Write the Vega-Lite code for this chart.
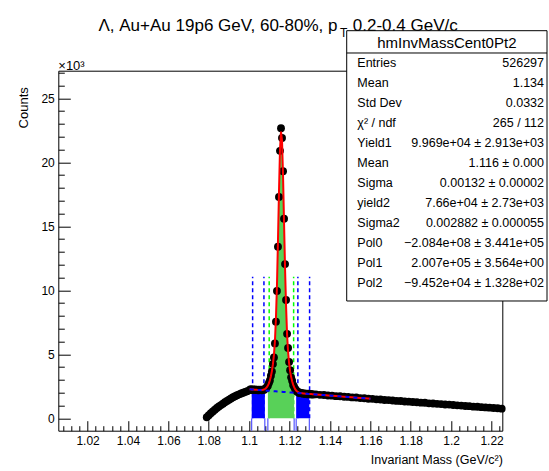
{
  "$schema": "https://vega.github.io/schema/vega-lite/v6.json",
  "width": 444,
  "height": 360,
  "autosize": {"type": "none"},
  "padding": {"left": 58.3, "top": 70.7, "right": 46.7, "bottom": 40.3},
  "background": "white",
  "config": {
    "view": {"stroke": "black", "strokeWidth": 1},
    "font": "Liberation Sans",
    "axis": {"labelFont": "Liberation Sans", "titleFont": "Liberation Sans", "labelColor": "black", "titleColor": "black", "tickColor": "black", "tickWidth": 1, "domain": false, "grid": false, "titleFontWeight": "normal", "labelFontSize": 12, "titleFontSize": 12.5, "labelOverlap": false, "labelFlush": false}
  },
  "datasets": {
    "h": [
      {"m": 1.079, "c": 0.08}, {"m": 1.080, "c": 0.24}, {"m": 1.081, "c": 0.39}, {"m": 1.082, "c": 0.53}, {"m": 1.083, "c": 0.67},
      {"m": 1.084, "c": 0.8}, {"m": 1.085, "c": 0.92}, {"m": 1.086, "c": 1.03}, {"m": 1.087, "c": 1.14}, {"m": 1.088, "c": 1.25},
      {"m": 1.089, "c": 1.35}, {"m": 1.090, "c": 1.45}, {"m": 1.091, "c": 1.55}, {"m": 1.092, "c": 1.64}, {"m": 1.093, "c": 1.72},
      {"m": 1.094, "c": 1.8}, {"m": 1.095, "c": 1.87}, {"m": 1.096, "c": 1.94}, {"m": 1.097, "c": 2.0}, {"m": 1.098, "c": 2.06},
      {"m": 1.099, "c": 2.12},
      {"m": 1.10025, "c": 2.22, "f": 2.267, "b": 2.267},
      {"m": 1.10075, "c": 2.27, "f": 2.261, "b": 2.261},
      {"m": 1.10125, "c": 2.21, "f": 2.254, "b": 2.254},
      {"m": 1.10175, "c": 2.26, "f": 2.248, "b": 2.248},
      {"m": 1.10225, "c": 2.2, "f": 2.242, "b": 2.242},
      {"m": 1.10275, "c": 2.25, "f": 2.236, "b": 2.236},
      {"m": 1.10325, "c": 2.21, "f": 2.23, "b": 2.23},
      {"m": 1.10375, "c": 2.24, "f": 2.223, "b": 2.223},
      {"m": 1.10425, "c": 2.18, "f": 2.217, "b": 2.217},
      {"m": 1.10475, "c": 2.23, "f": 2.211, "b": 2.211},
      {"m": 1.10525, "c": 2.2, "f": 2.213, "b": 2.205},
      {"m": 1.10575, "c": 2.23, "f": 2.212, "b": 2.199},
      {"m": 1.10625, "c": 2.19, "f": 2.214, "b": 2.192},
      {"m": 1.10675, "c": 2.24, "f": 2.224, "b": 2.186},
      {"m": 1.10725, "c": 2.22, "f": 2.245, "b": 2.18},
      {"m": 1.10775, "c": 2.3, "f": 2.281, "b": 2.174},
      {"m": 1.10825, "c": 2.33, "f": 2.339, "b": 2.168},
      {"m": 1.10875, "c": 2.45, "f": 2.426, "b": 2.161},
      {"m": 1.10925, "c": 2.55, "f": 2.554, "b": 2.155},
      {"m": 1.10975, "c": 2.76, "f": 2.733, "b": 2.149},
      {"m": 1.11025, "c": 2.95, "f": 2.97, "b": 2.143},
      {"m": 1.11075, "c": 3.32, "f": 3.287, "b": 2.137},
      {"m": 1.11125, "c": 3.66, "f": 3.692, "b": 2.13},
      {"m": 1.11175, "c": 4.25, "f": 4.23, "b": 2.124},
      {"m": 1.11225, "c": 4.75, "f": 4.95, "b": 2.118},
      {"m": 1.11275, "c": 5.85, "f": 6.05, "b": 2.112},
      {"m": 1.11325, "c": 7.55, "f": 7.85, "b": 2.106},
      {"m": 1.11375, "c": 9.95, "f": 10.4, "b": 2.099},
      {"m": 1.11425, "c": 13.4, "f": 13.9, "b": 2.093},
      {"m": 1.11475, "c": 17.3, "f": 17.7, "b": 2.087},
      {"m": 1.11525, "c": 20.9, "f": 21.0, "b": 2.081},
      {"m": 1.11575, "c": 22.66, "f": 22.4, "b": 2.075},
      {"m": 1.11625, "c": 21.9, "f": 21.7, "b": 2.068},
      {"m": 1.11675, "c": 19.3, "f": 19.0, "b": 2.062},
      {"m": 1.11725, "c": 15.6, "f": 15.3, "b": 2.056},
      {"m": 1.11775, "c": 12.05, "f": 11.7, "b": 2.05},
      {"m": 1.11825, "c": 9.24, "f": 8.8, "b": 2.044},
      {"m": 1.11875, "c": 6.6, "f": 6.55, "b": 2.037},
      {"m": 1.11925, "c": 5.5, "f": 5.2, "b": 2.031},
      {"m": 1.11975, "c": 4.4, "f": 4.3, "b": 2.025},
      {"m": 1.12025, "c": 3.75, "f": 3.68, "b": 2.019},
      {"m": 1.12075, "c": 3.2, "f": 3.24, "b": 2.013},
      {"m": 1.12125, "c": 2.93, "f": 2.89, "b": 2.006},
      {"m": 1.12175, "c": 2.6, "f": 2.63, "b": 2.0},
      {"m": 1.12225, "c": 2.46, "f": 2.43, "b": 1.994},
      {"m": 1.12275, "c": 2.27, "f": 2.28, "b": 1.988},
      {"m": 1.12325, "c": 2.19, "f": 2.17, "b": 1.982},
      {"m": 1.12375, "c": 2.08, "f": 2.09, "b": 1.975},
      {"m": 1.12425, "c": 2.06, "f": 2.04, "b": 1.969},
      {"m": 1.12475, "c": 1.98, "f": 2.005, "b": 1.963},
      {"m": 1.12525, "c": 2.0, "f": 1.98, "b": 1.957},
      {"m": 1.12575, "c": 1.95, "f": 1.965, "b": 1.951},
      {"m": 1.12625, "c": 1.97, "f": 1.952, "b": 1.944},
      {"m": 1.12675, "c": 1.92, "f": 1.938, "b": 1.938},
      {"m": 1.12725, "c": 1.95, "f": 1.932, "b": 1.932},
      {"m": 1.12775, "c": 1.9, "f": 1.926, "b": 1.926},
      {"m": 1.12825, "c": 1.93, "f": 1.92, "b": 1.92},
      {"m": 1.12875, "c": 1.88, "f": 1.913, "b": 1.913},
      {"m": 1.12925, "c": 1.92, "f": 1.907, "b": 1.907},
      {"m": 1.12975, "c": 1.87, "f": 1.901, "b": 1.901},
      {"m": 1.13025, "c": 1.91, "f": 1.895, "b": 1.895},
      {"m": 1.13075, "c": 1.86, "f": 1.889, "b": 1.889},
      {"m": 1.13125, "c": 1.89, "f": 1.882, "b": 1.882},
      {"m": 1.13175, "c": 1.85, "f": 1.876, "b": 1.876},
      {"m": 1.133, "c": 1.87, "f": 1.861, "b": 1.861},
      {"m": 1.135, "c": 1.83, "f": 1.836, "b": 1.836},
      {"m": 1.137, "c": 1.82, "f": 1.811, "b": 1.811},
      {"m": 1.139, "c": 1.78, "f": 1.786, "b": 1.786},
      {"m": 1.141, "c": 1.77, "f": 1.762, "b": 1.762},
      {"m": 1.143, "c": 1.73, "f": 1.737, "b": 1.737},
      {"m": 1.145, "c": 1.72, "f": 1.712, "b": 1.712},
      {"m": 1.147, "c": 1.68, "f": 1.687, "b": 1.687},
      {"m": 1.149, "c": 1.67, "f": 1.662, "b": 1.662},
      {"m": 1.151, "c": 1.63, "f": 1.638, "b": 1.638},
      {"m": 1.153, "c": 1.62, "f": 1.613, "b": 1.613},
      {"m": 1.155, "c": 1.58, "f": 1.588, "b": 1.588},
      {"m": 1.157, "c": 1.57, "f": 1.563, "b": 1.563},
      {"m": 1.159, "c": 1.53, "f": 1.538, "b": 1.538},
      {"m": 1.160, "f": 1.526, "b": 1.526},
      {"m": 1.161, "c": 1.52}, {"m": 1.163, "c": 1.48}, {"m": 1.165, "c": 1.47}, {"m": 1.167, "c": 1.43}, {"m": 1.169, "c": 1.42},
      {"m": 1.171, "c": 1.39}, {"m": 1.173, "c": 1.36}, {"m": 1.175, "c": 1.35}, {"m": 1.177, "c": 1.31}, {"m": 1.179, "c": 1.3},
      {"m": 1.181, "c": 1.27}, {"m": 1.183, "c": 1.25}, {"m": 1.185, "c": 1.22}, {"m": 1.187, "c": 1.21}, {"m": 1.189, "c": 1.17},
      {"m": 1.191, "c": 1.16}, {"m": 1.193, "c": 1.13}, {"m": 1.195, "c": 1.11}, {"m": 1.197, "c": 1.08}, {"m": 1.199, "c": 1.07},
      {"m": 1.201, "c": 1.04}, {"m": 1.203, "c": 1.01}, {"m": 1.205, "c": 0.99}, {"m": 1.207, "c": 0.96}, {"m": 1.209, "c": 0.95},
      {"m": 1.211, "c": 0.91}, {"m": 1.213, "c": 0.9}, {"m": 1.215, "c": 0.87}, {"m": 1.217, "c": 0.85}, {"m": 1.219, "c": 0.83},
      {"m": 1.221, "c": 0.8}, {"m": 1.223, "c": 0.78}, {"m": 1.225, "c": 0.75}
    ],
    "lines": [
      {"pos": 1.1017, "region": "sideband"},
      {"pos": 1.1073, "region": "sideband"},
      {"pos": 1.1099, "region": "signal"},
      {"pos": 1.1220, "region": "signal"},
      {"pos": 1.1241, "region": "sideband"},
      {"pos": 1.1299, "region": "sideband"}
    ],
    "edges": [
      {"pos": 1.10125}, {"pos": 1.10775}, {"pos": 1.10925}, {"pos": 1.12225}, {"pos": 1.12325}, {"pos": 1.12975}
    ],
    "stats": [
      {"row": 1, "label": "Entries", "value": "526297"},
      {"row": 2, "label": "Mean", "value": "1.134"},
      {"row": 3, "label": "Std Dev", "value": "0.0332"},
      {"row": 4, "label": "χ² / ndf", "value": "265 / 112"},
      {"row": 5, "label": "Yield1", "value": "9.969e+04 ± 2.913e+03"},
      {"row": 6, "label": "Mean", "value": "1.116 ± 0.000"},
      {"row": 7, "label": "Sigma", "value": "0.00132 ± 0.00002"},
      {"row": 8, "label": "yield2", "value": "7.66e+04 ± 2.73e+03"},
      {"row": 9, "label": "Sigma2", "value": "0.002882 ± 0.000055"},
      {"row": 10, "label": "Pol0", "value": "−2.084e+08 ± 3.441e+05"},
      {"row": 11, "label": "Pol1", "value": "2.007e+05 ± 3.564e+00"},
      {"row": 12, "label": "Pol2", "value": "−9.452e+04 ± 1.328e+02"}
    ]
  },
  "layer": [
    {
      "layer": [
        {
          "layer": [
            {
              "data": {"name": "lines"},
              "mark": {"type": "rule", "strokeDash": [4, 3], "strokeWidth": 1.5},
              "encoding": {
                "x": {"field": "pos", "type": "quantitative"},
                "y": {"datum": 0, "type": "quantitative"},
                "y2": {"datum": 11.06},
                "color": {"field": "region", "type": "nominal", "scale": {"domain": ["sideband", "signal"], "range": ["#0000ff", "#00ff00"]}, "legend": null}
              }
            },
            {
              "data": {"name": "h"},
              "transform": [{"filter": {"field": "m", "range": [1.101, 1.108]}}],
              "mark": {"type": "area", "interpolate": "step", "color": "#0000ff"},
              "encoding": {
                "x": {"field": "m", "type": "quantitative"},
                "y": {"field": "c", "type": "quantitative"},
                "y2": {"datum": 0}
              }
            },
            {
              "data": {"name": "h"},
              "transform": [{"filter": {"field": "m", "range": [1.109, 1.1223]}}],
              "mark": {"type": "area", "interpolate": "step", "color": "#58d158"},
              "encoding": {
                "x": {"field": "m", "type": "quantitative"},
                "y": {"field": "c", "type": "quantitative"},
                "y2": {"datum": 0}
              }
            },
            {
              "data": {"name": "h"},
              "transform": [{"filter": {"field": "m", "range": [1.123, 1.130]}}],
              "mark": {"type": "area", "interpolate": "step", "color": "#0000ff"},
              "encoding": {
                "x": {"field": "m", "type": "quantitative"},
                "y": {"field": "c", "type": "quantitative"},
                "y2": {"datum": 0}
              }
            },
            {
              "data": {"name": "edges"},
              "mark": {"type": "rule", "color": "#3333ff", "strokeWidth": 1},
              "encoding": {
                "x": {"field": "pos", "type": "quantitative"},
                "y": {"datum": -0.97, "type": "quantitative"},
                "y2": {"datum": 0}
              }
            },
            {
              "data": {"name": "h"},
              "mark": {"type": "point", "filled": true, "color": "black", "size": 62, "opacity": 1},
              "encoding": {
                "x": {"field": "m", "type": "quantitative", "scale": {"domain": [1.0055, 1.2253], "nice": false, "zero": false},
                  "axis": {
                    "orient": "bottom",
                    "title": "Invariant Mass (GeV/c²)",
                    "values": [1.02, 1.04, 1.06, 1.08, 1.1, 1.12, 1.14, 1.16, 1.18, 1.2, 1.22],
                    "tickSize": -10,
                    "labelExpr": "format(datum.value, '~g')",
                    "labelPadding": 15,
                    "titleX": 444, "titleY": 33, "titleAlign": "right", "titleBaseline": "alphabetic", "titleAnchor": null
                  }
                },
                "y": {"field": "c", "type": "quantitative", "scale": {"domain": [-0.97, 27.16], "nice": false, "zero": false},
                  "axis": {
                    "orient": "left",
                    "title": "Counts",
                    "values": [0, 5, 10, 15, 20, 25],
                    "tickSize": -12,
                    "labelPadding": 16,
                    "titleAngle": -90, "titleX": -31, "titleY": 16, "titleAlign": "right", "titleBaseline": "alphabetic", "titleAnchor": null, "titleFontSize": 13
                  }
                }
              }
            },
            {
              "data": {"name": "h"},
              "mark": {"type": "line", "color": "#ff0000", "strokeWidth": 2},
              "encoding": {
                "x": {"field": "m", "type": "quantitative"},
                "y": {"field": "f", "type": "quantitative"}
              }
            },
            {
              "data": {"name": "h"},
              "mark": {"type": "line", "color": "#0000ff", "strokeWidth": 2, "strokeDash": [4, 4]},
              "encoding": {
                "x": {"field": "m", "type": "quantitative"},
                "y": {"field": "b", "type": "quantitative"}
              }
            },
            {
              "data": {"values": [{}]},
              "mark": {"type": "text", "text": "×10³", "align": "left", "baseline": "alphabetic", "fontSize": 13, "font": "Liberation Sans", "color": "black"},
              "encoding": {
                "x": {"datum": 1.0055, "type": "quantitative"},
                "y": {"datum": 27.25, "type": "quantitative"}
              }
            },
            {
              "data": {"values": [{}]},
              "mark": {"type": "text", "text": "Λ, Au+Au 19p6 GeV, 60-80%, p", "align": "right", "baseline": "alphabetic", "fontSize": 17, "font": "Liberation Sans", "color": "black"},
              "encoding": {
                "x": {"datum": 1.1437, "type": "quantitative"},
                "y": {"datum": 30.3, "type": "quantitative"}
              }
            },
            {
              "data": {"values": [{}]},
              "mark": {"type": "text", "text": "T", "align": "left", "baseline": "alphabetic", "fontSize": 12, "font": "Liberation Sans", "color": "black"},
              "encoding": {
                "x": {"datum": 1.1449, "type": "quantitative"},
                "y": {"datum": 29.83, "type": "quantitative"}
              }
            },
            {
              "data": {"values": [{}]},
              "mark": {"type": "text", "text": "0.2-0.4 GeV/c", "align": "left", "baseline": "alphabetic", "fontSize": 17, "font": "Liberation Sans", "color": "black"},
              "encoding": {
                "x": {"datum": 1.1513, "type": "quantitative"},
                "y": {"datum": 30.3, "type": "quantitative"}
              }
            }
          ]
        },
        {
          "data": {"values": [{}]},
          "mark": {"type": "point", "opacity": 0},
          "encoding": {
            "x": {"datum": 1.1, "type": "quantitative",
              "axis": {"orient": "bottom", "title": null, "labels": false, "tickSize": -5,
                "values": [1.008,1.012,1.016,1.024,1.028,1.032,1.036,1.044,1.048,1.052,1.056,1.064,1.068,1.072,1.076,1.084,1.088,1.092,1.096,1.104,1.108,1.112,1.116,1.124,1.128,1.132,1.136,1.144,1.148,1.152,1.156,1.164,1.168,1.172,1.176,1.184,1.188,1.192,1.196,1.204,1.208,1.212,1.216,1.224]}
            },
            "y": {"datum": 5, "type": "quantitative",
              "axis": {"orient": "left", "title": null, "labels": false, "tickSize": -6,
                "values": [1,2,3,4,6,7,8,9,11,12,13,14,16,17,18,19,21,22,23,24,26,27]}
            }
          }
        }
      ],
      "resolve": {"axis": {"x": "independent", "y": "independent"}}
    },
    {
      "layer": [
        {
          "data": {"values": [{}]},
          "mark": {"type": "rect", "fill": "white", "stroke": "black", "strokeWidth": 1},
          "encoding": {
            "x": {"datum": 0, "type": "quantitative", "scale": {"domain": [-1.4399, 0.7768], "nice": false, "zero": false}, "axis": null},
            "x2": {"datum": 1},
            "y": {"datum": -0.596, "type": "quantitative", "scale": {"domain": [1.399, 19.354], "nice": false, "zero": false, "reverse": true}, "axis": null},
            "y2": {"datum": 12.885}
          }
        },
        {
          "data": {"values": [{}]},
          "mark": {"type": "rule", "color": "black", "strokeWidth": 1},
          "encoding": {
            "x": {"datum": 0, "type": "quantitative"},
            "x2": {"datum": 1},
            "y": {"datum": 0.516, "type": "quantitative"}
          }
        },
        {
          "data": {"values": [{}]},
          "mark": {"type": "text", "text": "hmInvMassCent0Pt2", "align": "center", "baseline": "middle", "fontSize": 15, "font": "Liberation Sans", "color": "black"},
          "encoding": {
            "x": {"datum": 0.5, "type": "quantitative"},
            "y": {"datum": 0, "type": "quantitative"}
          }
        },
        {
          "data": {"name": "stats"},
          "mark": {"type": "text", "align": "left", "baseline": "middle", "fontSize": 12.5, "font": "Liberation Sans", "color": "black"},
          "encoding": {
            "x": {"datum": 0.053, "type": "quantitative"},
            "y": {"field": "row", "type": "quantitative"},
            "text": {"field": "label", "type": "nominal"}
          }
        },
        {
          "data": {"name": "stats"},
          "mark": {"type": "text", "align": "right", "baseline": "middle", "fontSize": 12.5, "font": "Liberation Sans", "color": "black"},
          "encoding": {
            "x": {"datum": 0.985, "type": "quantitative"},
            "y": {"field": "row", "type": "quantitative"},
            "text": {"field": "value", "type": "nominal"}
          }
        }
      ]
    }
  ],
  "resolve": {"scale": {"x": "independent", "y": "independent"}, "axis": {"x": "independent", "y": "independent"}}
}
